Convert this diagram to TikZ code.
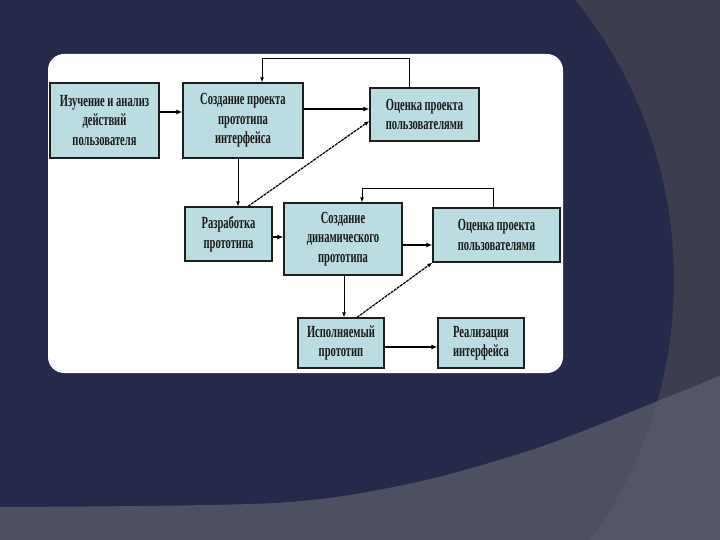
\documentclass[tikz,border=0pt]{standalone}
\usepackage{fontspec}
\setmainfont{Liberation Serif}[FakeStretch=0.62]
\usetikzlibrary{arrows.meta,calc}
\definecolor{navy}{HTML}{262A4A}
\definecolor{greyA}{HTML}{3C3E4F}
\definecolor{greyB}{HTML}{4D5061}
\definecolor{greyC}{HTML}{535665}
\definecolor{boxfill}{HTML}{BBDCE0}
\definecolor{boxline}{HTML}{1E1E1E}
\tikzset{
  stagebox/.style={draw=boxline, line width=1.3pt, fill=boxfill, inner sep=0pt,
    align=center, text=black!90, font=\fontsize{17}{19.5}\selectfont\bfseries},
  thick arrow/.style={draw=black, line width=1.8pt, -{Latex[length=6pt,width=5pt]}},
  thin arrow/.style={draw=black, line width=0.9pt, -{Latex[length=5pt,width=4pt]}},
  diag arrow/.style={draw=black, line width=1.2pt, dash pattern=on 3pt off 0.8pt, -{Latex[length=5pt,width=4pt]}}
}
\begin{document}
\begin{tikzpicture}[x=1pt,y=-1pt]
\useasboundingbox (0,0) rectangle (720,540);
% background
\fill[greyA] (0,0) rectangle (720,540);
\fill[navy] (228,280) circle[radius=446];
\fill[greyB] plot[smooth] coordinates {(0,507) (275,503) (413,483) (540,447) (663,399) (720,376)} -- (720,540) -- (0,540) -- cycle;
\begin{scope}
  \clip plot[smooth] coordinates {(0,507) (275,503) (413,483) (540,447) (663,399) (720,376)} -- (720,540) -- (0,540) -- cycle;
  \fill[greyC, even odd rule] (-300,-300) rectangle (1000,900) (228,280) circle[radius=446];
\end{scope}
% white panel
\fill[white, rounded corners=16pt] (48,54) rectangle (563,373);
% boxes
\node[stagebox, minimum width=109, minimum height=75] (b1) at (104.5,120.5) {Изучение и анализ\\действий\\пользователя};
\node[stagebox, minimum width=120, minimum height=75] (b2) at (243,120.5) {Создание проекта\\прототипа\\интерфейса};
\node[stagebox, minimum width=109, minimum height=53] (b3) at (424.5,114.5) {Оценка проекта\\пользователями};
\node[stagebox, minimum width=87, minimum height=54] (b4) at (228.5,234) {Разработка\\прототипа};
\node[stagebox, minimum width=118, minimum height=72] (b5) at (343,239) {Создание\\динамического\\прототипа};
\node[stagebox, minimum width=127, minimum height=54] (b6) at (496.5,235) {Оценка проекта\\пользователями};
\node[stagebox, minimum width=86, minimum height=50] (b7) at (341,343) {Исполняемый\\прототип};
\node[stagebox, minimum width=86, minimum height=50] (b8) at (481,343) {Реализация\\интерфейса};
% connectors
\draw[thick arrow] (b1.east |- 0,112) -- (b2.west |- 0,112);
\draw[thick arrow] (b2.east |- 0,109) -- (b3.west |- 0,109);
\draw[thin arrow] (b3.north -| 409,0) -- (409,58) -- (262,58) -- (b2.north -| 262,0);
\draw[thin arrow] (b2.south -| 238,0) -- (b4.north -| 238,0);
\draw[diag arrow] (b4.north -| 248,0) -- (b3.west |- 0,121);
\draw[thick arrow] (b4.east |- 0,237) -- (b5.west |- 0,237);
\draw[thick arrow] (b5.east |- 0,245) -- (b6.west |- 0,245);
\draw[thin arrow] (b6.north -| 493,0) -- (493,188) -- (362,188) -- (b5.north -| 362,0);
\draw[thin arrow] (b5.south -| 344,0) -- (b7.north -| 344,0);
\draw[diag arrow] (b7.north -| 357,0) -- (b6.south west);
\draw[thick arrow] (b7.east |- 0,347) -- (b8.west |- 0,347);
\end{tikzpicture}
\end{document}
